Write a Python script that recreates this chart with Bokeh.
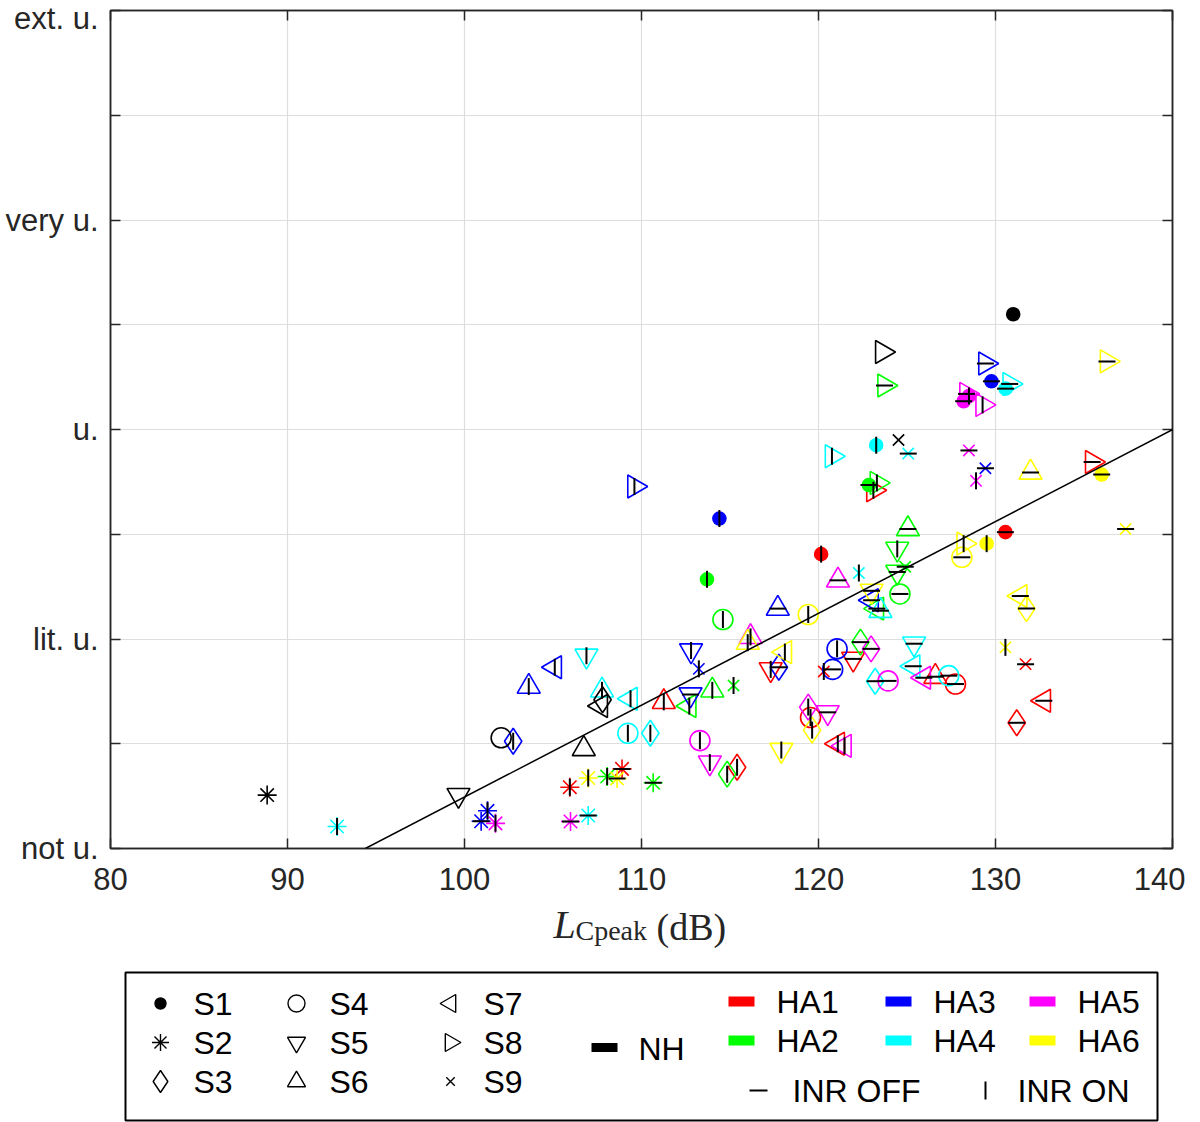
import numpy as np
from bokeh.plotting import figure
from bokeh.models import FixedTicker, LinearAxis, Range1d, Slope, ColumnDataSource
from bokeh.layouts import column
from bokeh.embed import file_html
from bokeh.resources import INLINE
from bokeh.core.properties import value

# ---------------- data ----------------
stimuli = ["S1", "S2", "S3", "S4", "S5", "S6", "S7", "S8", "S9"]
inr_states = ["ON", "OFF"]  # each device: S1 ON, S1 OFF, S2 ON, S2 OFF, ...
devices = ["HA1", "HA2", "HA3", "HA4", "HA5", "HA6"]
device_colors = ["#ff0000", "#00ff00", "#0000ff", "#00ffff", "#ff00ff", "#ffff00"]

ha1_lcpeak = [120.15, 130.56, 105.95, 108.9, 115.4, 131.2, 119.55, 127.74, 117.3, 121.96,
              111.26, 126.6, 121.09, 132.73, 123.1, 135.46, 120.3, 131.7]
ha1_rating = [2.81, 3.02, 0.585, 0.76, 0.775, 1.20, 1.25, 1.57, 1.71, 1.81,
              1.40, 1.64, 1.00, 1.41, 3.42, 3.69, 1.69, 1.76]
ha2_lcpeak = [113.7, 122.85, 108.06, 110.66, 114.84, 122.37, 114.6, 124.6, 124.45, 124.45,
              114.0, 125.05, 112.7, 123.3, 123.3, 123.73, 115.2, 124.9]
ha2_rating = [2.57, 3.47, 0.687, 0.627, 0.71, 1.97, 2.186, 2.43, 2.86, 2.64,
              1.51, 3.05, 1.36, 2.29, 3.49, 4.42, 1.556, 2.69]
ha3_lcpeak = [114.4, 129.77, 101.3, 100.94, 102.75, 117.76, 121.05, 120.8, 112.8, 112.77,
              103.63, 117.7, 105.1, 123.0, 109.6, 129.43, 113.24, 129.43]
ha3_rating = [3.15, 4.46, 0.36, 0.26, 1.024, 1.73, 1.906, 1.71, 1.89, 1.47,
              1.546, 2.29, 1.73, 2.37, 3.456, 4.63, 1.715, 3.63]
ha4_lcpeak = [123.26, 130.57, 92.8, 106.99, 110.5, 123.2, 109.23, 127.36, 106.89, 125.4,
              107.77, 123.5, 109.38, 125.35, 120.76, 130.8, 122.28, 125.07]
ha4_rating = [3.85, 4.39, 0.21, 0.315, 1.10, 1.597, 1.10, 1.65, 1.84, 1.955,
              1.51, 2.27, 1.43, 1.74, 3.745, 4.435, 2.63, 3.77]
ha5_lcpeak = [128.5, 128.2, 101.75, 105.99, 119.42, 122.97, 113.3, 123.93, 113.86, 120.52,
              116.16, 121.1, 121.47, 125.95, 129.27, 128.36, 128.9, 128.5]
ha5_rating = [4.32, 4.27, 0.24, 0.258, 1.35, 1.906, 1.03, 1.60, 0.82, 1.30,
              2.02, 2.56, 0.98, 1.63, 4.235, 4.34, 3.51, 3.80]
ha6_lcpeak = [129.5, 136.0, 106.99, 108.62, 119.64, 131.75, 119.42, 128.1, 117.9, 123.0,
              116.0, 131.98, 118.1, 131.4, 128.2, 136.3, 130.56, 137.35]
ha6_rating = [2.91, 3.57, 0.673, 0.668, 1.13, 2.29, 2.234, 2.78, 0.94, 2.46,
              1.965, 3.59, 1.875, 2.41, 2.91, 4.65, 1.92, 3.05]
nh_lcpeak = [131.0, 88.85, 107.8, 102.07, 99.66, 106.74, 107.7, 123.6, 124.52]
nh_rating = [5.10, 0.51, 1.42, 1.057, 0.51, 0.95, 1.36, 4.74, 3.90]

fit_slope = 0.0877
fit_x0 = 94.4  # x where the fitted line reaches "not u."

x_ticks = [80, 90, 100, 110, 120, 130, 140]
y_ticks = [0, 1, 2, 3, 4, 5, 6, 7, 8]
y_tick_labels = {0: "not u.", 2: "lit. u.", 4: "u.", 6: "very u.", 8: "ext. u."}

# ---------------- marker styles ----------------
marker_of = {"S1": "circle", "S2": "asterisk", "S3": "diamond", "S4": "circle",
             "S5": "inverted_triangle", "S6": "triangle", "S7": "triangle",
             "S8": "triangle", "S9": "x"}
angle_of = {"S7": np.pi / 2, "S8": -np.pi / 2}
size_of = {"S1": 13, "S2": 19, "S3": 26, "S4": 20, "S5": 23, "S6": 23,
           "S7": 23, "S8": 23, "S9": 16}

FONT = "Liberation Sans"
AX = "#262626"

xs, ys, mk, ang, sz, lc, fc, fa = [], [], [], [], [], [], [], []
tx, ty, tang = [], [], []
all_x = [ha1_lcpeak, ha2_lcpeak, ha3_lcpeak, ha4_lcpeak, ha5_lcpeak, ha6_lcpeak]
all_y = [ha1_rating, ha2_rating, ha3_rating, ha4_rating, ha5_rating, ha6_rating]
for dev_x, dev_y, col in zip(all_x, all_y, device_colors):
    for i, (xv, yv) in enumerate(zip(dev_x, dev_y)):
        s = stimuli[i // 2]
        st = inr_states[i % 2]
        xs.append(xv); ys.append(yv); mk.append(marker_of[s])
        ang.append(angle_of.get(s, 0.0)); sz.append(size_of[s])
        lc.append(col); fc.append(col); fa.append(1.0 if s == "S1" else 0.0)
        tx.append(xv); ty.append(yv); tang.append(0.0 if st == "OFF" else np.pi / 2)
for i, (xv, yv) in enumerate(zip(nh_lcpeak, nh_rating)):
    s = stimuli[i]
    xs.append(xv); ys.append(yv); mk.append(marker_of[s])
    ang.append(angle_of.get(s, 0.0)); sz.append(size_of[s])
    lc.append("black"); fc.append("black"); fa.append(1.0 if s == "S1" else 0.0)

src = ColumnDataSource(dict(x=xs, y=ys, marker=mk, angle=ang, size=sz,
                            lc=lc, fc=fc, fa=fa))
tick_src = ColumnDataSource(dict(x=tx, y=ty, angle=tang))

# ---------------- main figure ----------------
p = figure(width=1185, height=900, x_range=Range1d(80, 140), y_range=Range1d(0, 8),
           output_backend="svg", toolbar_location=None,
           min_border_left=110, min_border_right=13, min_border_top=10,
           min_border_bottom=52)
p.outline_line_color = AX
p.outline_line_width = 1.5
p.background_fill_color = "white"
p.border_fill_color = "white"

p.xaxis.ticker = FixedTicker(ticks=x_ticks)
p.yaxis.ticker = FixedTicker(ticks=y_ticks)
p.yaxis.major_label_overrides = {t: y_tick_labels.get(t, "") for t in y_ticks}
for ax in (p.xaxis[0], p.yaxis[0]):
    ax.major_tick_in = 10
    ax.major_tick_out = 0
    ax.minor_tick_in = 0
    ax.minor_tick_out = 0
    ax.axis_line_color = AX
    ax.axis_line_width = 1.5
    ax.major_tick_line_color = AX
    ax.major_tick_line_width = 1.5
    ax.major_label_text_font = FONT
    ax.major_label_text_font_size = "31px"
    ax.major_label_text_color = AX
p.xaxis.major_label_standoff = 19
p.yaxis.major_label_standoff = 12

for loc, tk in (("above", x_ticks), ("right", y_ticks)):
    ax = LinearAxis(ticker=FixedTicker(ticks=tk))
    ax.major_label_overrides = {t: "" for t in tk}
    ax.major_tick_in = 10
    ax.major_tick_out = 0
    ax.minor_tick_in = 0
    ax.minor_tick_out = 0
    ax.axis_line_color = AX
    ax.axis_line_width = 1.5
    ax.major_tick_line_color = AX
    ax.major_tick_line_width = 1.5
    ax.major_label_text_font_size = "1px"
    ax.major_label_standoff = 0
    p.add_layout(ax, loc)

p.xgrid.ticker = FixedTicker(ticks=x_ticks)
p.ygrid.ticker = FixedTicker(ticks=y_ticks)
p.grid.grid_line_color = "#dedede"
p.grid.grid_line_width = 1.2

p.add_layout(Slope(gradient=fit_slope, y_intercept=-fit_slope * fit_x0,
                   line_color="black", line_width=1.5))

p.scatter(x="x", y="y", marker="marker", angle="angle", size="size", source=src,
          line_color="lc", fill_color="fc", fill_alpha="fa", line_width=1.6)
p.scatter(x="x", y="y", angle="angle", marker="dash", size=17, source=tick_src,
          line_color="black", line_width=2)

# ---------------- x label + legend figure ----------------
# the column aligns this figure's frame with the main frame (page x 110..1172),
# so its x range is expressed in page pixels over that span
q = figure(width=1185, height=222, x_range=Range1d(110, 1172), y_range=Range1d(222, 0),
           output_backend="svg", toolbar_location=None, min_border=0,
           min_border_left=110, min_border_right=13,
           x_axis_location=None, y_axis_location=None)
q.grid.visible = False
q.outline_line_color = None

# x-axis label: L_Cpeak (dB)
q.text(x=[553], y=[24], text=["L"], text_font=value("Liberation Serif"),
       text_font_style="italic", text_font_size="40px", text_baseline="middle",
       text_color=AX)
q.text(x=[575], y=[30], text=["Cpeak"], text_font=value("Liberation Serif"),
       text_font_size="28px", text_baseline="middle", text_color=AX)
q.text(x=[656], y=[26], text=["(dB)"], text_font=value("Liberation Serif"),
       text_font_size="38px", text_baseline="middle", text_color=AX)

q.quad(left=[125], right=[1157], top=[72], bottom=[220], fill_color=None,
       line_color="black", line_width=2)

leg_col_x = [160, 296, 450]
leg_row_y = [103, 142, 181]
leg_size = {"S1": 11, "S2": 17, "S3": 22, "S4": 17, "S5": 18, "S6": 18,
            "S7": 18, "S8": 18, "S9": 12}
lmx, lmy, lmk, lang, lsz, lfa, ltx, lty, ltt = [], [], [], [], [], [], [], [], []
for i, s in enumerate(stimuli):
    cx = leg_col_x[i // 3]
    cy = leg_row_y[i % 3]
    lmx.append(cx); lmy.append(cy); lmk.append(marker_of[s])
    lang.append(angle_of.get(s, 0.0)); lsz.append(leg_size[s])
    lfa.append(1.0 if s == "S1" else 0.0)
    ltx.append(cx + 33); lty.append(cy); ltt.append(s)
q.scatter(x=lmx, y=lmy, marker=lmk, angle=lang, size=lsz, line_color="black",
          fill_color="black", fill_alpha=lfa, line_width=1.4)

q.rect(x=[604], y=[147], width=26, height=9, fill_color="black", line_color=None)
ltx.append(638); lty.append(148); ltt.append("NH")

ha_x = [741, 741, 898, 898, 1042, 1042]
ha_y = [101, 140, 101, 140, 101, 140]
q.rect(x=ha_x, y=ha_y, width=26, height=10, fill_color=device_colors, line_color=None)
for hx, hy, d in zip(ha_x, ha_y, devices):
    ltx.append(hx + 35); lty.append(hy); ltt.append(d)

q.scatter(x=[758, 985], y=[190, 190], marker="dash", angle=[0, np.pi / 2], size=18,
          line_color="black", line_width=2)
ltx += [792, 1017]; lty += [190, 190]; ltt += ["INR OFF", "INR ON"]

q.text(x=ltx, y=lty, text=ltt, text_font=value(FONT), text_font_size="32px",
       text_baseline="middle", text_align="left", text_color="black")

layout = column(p, q, spacing=0)
open("out.html", "w").write(file_html(layout, INLINE))
